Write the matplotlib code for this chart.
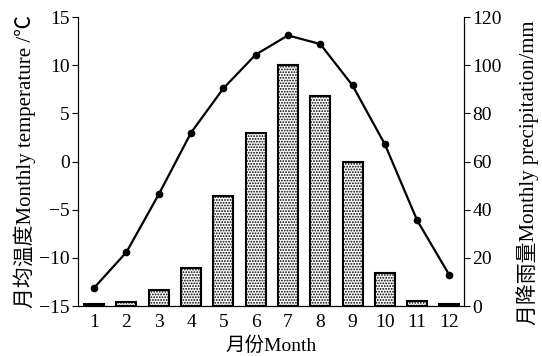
import numpy as np
import matplotlib.pyplot as plt

plt.rcParams['font.family'] = ['Liberation Serif', 'Noto Sans CJK SC']
plt.rcParams['hatch.linewidth'] = 0.9

months = [1, 2, 3, 4, 5, 6, 7, 8, 9, 10, 11, 12]
temperature = [-13.1, -9.4, -3.4, 3.0, 7.6, 11.1, 13.1, 12.2, 7.9, 1.8, -6.1, -11.8]
precipitation = [1.0, 1.7, 6.5, 15.9, 45.6, 71.8, 100.1, 87.1, 59.9, 13.6, 2.2, 0.7]

fig = plt.figure(figsize=(5.42, 3.56), dpi=100)
ax = fig.add_axes([0.144, 0.1404, 0.712, 0.8116])
ax2 = ax.twinx()

# precipitation bars on the right axis
ax2.bar(months, precipitation, width=0.62, color='white', edgecolor='black',
        linewidth=1.5, hatch='......', zorder=2)
ax2.set_ylim(0, 120)
ax2.set_yticks([0, 20, 40, 60, 80, 100, 120])

# temperature line on the left axis (drawn above bars)
ax.plot(months, temperature, color='black', marker='o', markersize=4.5,
        linewidth=1.6)
ax.set_ylim(-15, 15)
ax.set_yticks([-15, -10, -5, 0, 5, 10, 15])
ax.set_yticklabels(['\u221215', '\u221210', '\u22125', '0', '5', '10', '15'])
ax.set_xlim(0.5, 12.45)
ax.set_xticks(months)
ax.set_zorder(ax2.get_zorder() + 1)
ax.patch.set_visible(False)

for a in (ax, ax2):
    a.spines['top'].set_visible(False)
    a.tick_params(labelsize=14, width=0.8, length=4, direction='out', pad=2)
ax.tick_params(axis='x', length=0, pad=6)

ax.set_xlabel('月份Month', fontsize=14, labelpad=4)
ax.set_ylabel('月均温度Monthly temperature /℃', fontsize=15, labelpad=2)
ax2.set_ylabel('月降雨量Monthly precipitation/mm', fontsize=15)
ax2.yaxis.set_label_coords(1.135, 0.46)

fig.savefig('out.png', dpi=100)
